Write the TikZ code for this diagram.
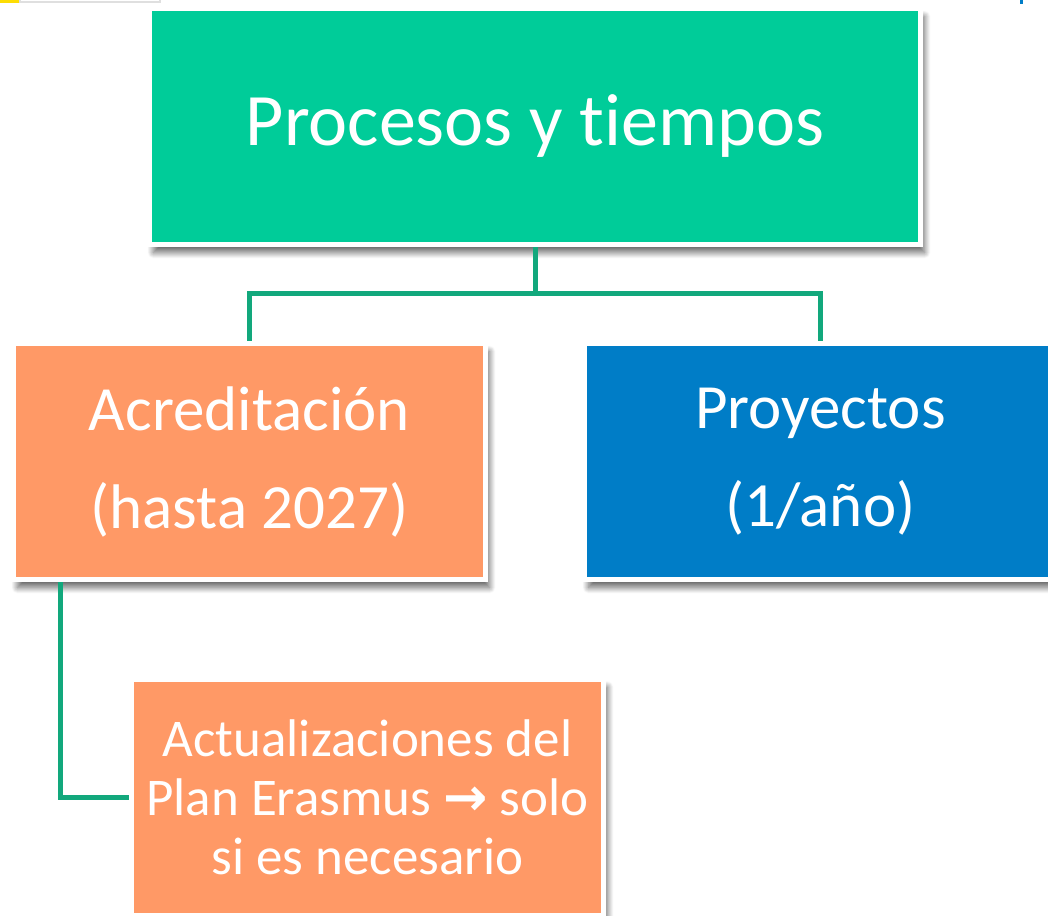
\documentclass[tikz,border=0pt]{standalone}
\usepackage{fontspec}
\setmainfont{Carlito}[Ligatures=NoCommon]
\newfontfamily\arrowfont{DejaVu Sans}
\usetikzlibrary{shadows.blur}
\definecolor{topgreen}{RGB}{0,204,153}
\definecolor{boxorange}{RGB}{255,153,102}
\definecolor{boxblue}{RGB}{0,125,199}
\definecolor{linkgreen}{RGB}{18,168,124}
\tikzstyle{box}=[draw=white,line width=5pt,text=white,align=center,inner sep=0pt,
  minimum width=472pt,minimum height=236pt,
  blur shadow={shadow xshift=4pt,shadow yshift=-8pt,shadow blur radius=6pt,shadow blur steps=12,shadow opacity=60}]
\tikzstyle{link}=[draw=linkgreen,line width=5pt]

\begin{document}
\begin{tikzpicture}[x=1pt,y=-1pt]
\useasboundingbox (0,0) rectangle (1048,915);

%slide remains
\fill[yellow!80!orange] (0,0) rectangle (20,3);
\draw[gray!25,line width=1.5pt] (20,-5) rectangle (160,2);
\fill[boxblue] (1020,0) rectangle (1023,4);

%boxes
\node[box,fill=topgreen,minimum width=771pt,font=\fontsize{74}{80}\selectfont] (top) at (535,126.5) {Procesos y tiempos};
\node[box,fill=boxorange,font=\fontsize{63}{98}\selectfont] (acred) at (249.5,461.5) {Acreditación\\(hasta 2027)};
\node[box,fill=boxblue,font=\fontsize{63}{98}\selectfont] (proy) at (820.5,461.5) {Proyectos\\(1/año)};
\node[box,fill=boxorange,font=\fontsize{53}{59}\selectfont] (upd) at (367.5,797) {Actualizaciones del\\Plan Erasmus {\arrowfont\bfseries →} solo\\si es necesario};

%connectors
\coordinate (split) at (535,293);
\coordinate (lft) at (60,0);
\draw[link] (top.south) -- (split) -| (acred.north);
\draw[link] (split) -| (proy.north);
\draw[link] (acred.south -| lft) |- (upd.west);

\end{tikzpicture}
\end{document}
